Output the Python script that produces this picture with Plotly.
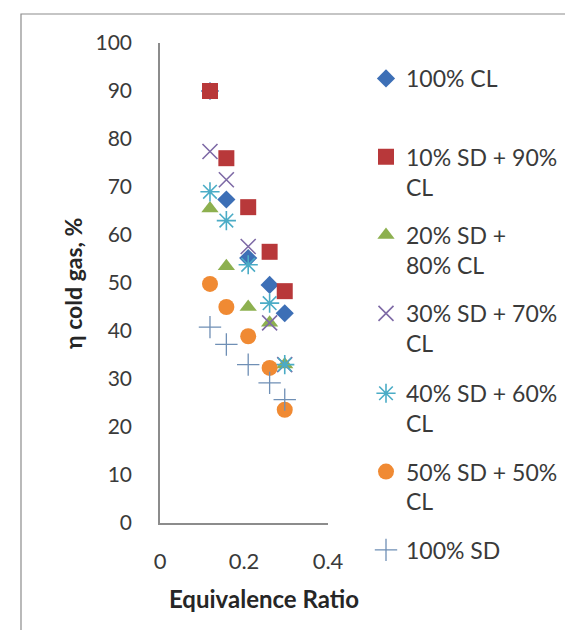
import plotly.graph_objects as go

# Equivalence ratio values (shared by all series)
equivalence_ratio = [0.119, 0.158, 0.21, 0.261, 0.297]

series_names = [
    "100% CL<br>\u00a0",
    "10% SD + 90%<br>CL",
    "20% SD +<br>80% CL",
    "30% SD + 70%<br>CL",
    "40% SD + 60%<br>CL",
    "50% SD + 50%<br>CL",
    "100% SD<br>\u00a0",
]

cl_100 = [90.0, 67.4, 55.2, 49.6, 43.7]
sd10_cl90 = [90.0, 76.0, 65.8, 56.5, 48.3]
sd20_cl80 = [65.5, 53.5, 45.0, 41.7, 33.0]
sd30_cl70 = [77.4, 71.5, 57.6, 41.7, 33.0]
sd40_cl60 = [69.0, 63.0, 53.8, 45.8, 33.0]
sd50_cl50 = [49.8, 45.0, 38.9, 32.3, 23.6]
sd_100 = [40.8, 37.2, 33.0, 29.2, 25.7]

y_ticks = [0, 10, 20, 30, 40, 50, 60, 70, 80, 90, 100]
x_ticks = [0, 0.2, 0.4]

values = [cl_100, sd10_cl90, sd20_cl80, sd30_cl70, sd40_cl60, sd50_cl50, sd_100]

styles = [
    dict(symbol="diamond", size=14, color="#3D6FB6", line=dict(width=0)),
    dict(symbol="square", size=16, color="#B8383A", line=dict(width=0)),
    dict(symbol="triangle-up", size=15, color="#8DB04F", line=dict(width=0)),
    dict(symbol="x-thin-open", size=15, color="#7E6AA6", line=dict(width=1.6, color="#7E6AA6")),
    dict(symbol="asterisk-open", size=16, color="#4BACC6", line=dict(width=1.6, color="#4BACC6")),
    dict(symbol="circle", size=16, color="#F08A33", line=dict(width=0)),
    dict(symbol="cross-thin-open", size=16, color="#6F8FB5", line=dict(width=1.3, color="#6F8FB5")),
]

FONT = "Lato, 'Open Sans', sans-serif"
TXT = "#3A3A3A"

fig = go.Figure()
for i, (name, ys, st) in enumerate(zip(series_names, values, styles)):
    fig.add_trace(go.Scatter(
        x=equivalence_ratio, y=ys, name=name, mode="markers",
        marker=st, legendgroup=f"g{i}",
        legend="legend" if i < 4 else "legend2",
    ))

L, R, T, B = 152, 253, 35, 115
W, H = 573, 630
pw, ph = W - L - R, H - T - B

def px_x(p):
    return (p - L) / pw

def px_y(p):
    return (H - B - p) / ph

ITEM_STEP = 78.7
leg_common = dict(
    xanchor="left", yanchor="top",
    font=dict(family=FONT, size=23, color=TXT),
    valign="top", tracegroupgap=15.5, bgcolor="rgba(0,0,0,0)",
    itemwidth=30,
)

fig.update_layout(
    width=W, height=H,
    margin=dict(l=L, r=R, t=T, b=B),
    paper_bgcolor="white", plot_bgcolor="white",
    font=dict(family=FONT, size=21, color=TXT),
    showlegend=True,
    legend=dict(x=px_x(358), y=px_y(49), **leg_common),
    legend2=dict(x=px_x(358), y=px_y(49 + 4 * ITEM_STEP), **leg_common),
    xaxis=dict(
        range=[0, 0.4], tickvals=x_ticks, showgrid=False, zeroline=False,
        showline=True, linecolor="#8C8C8C", linewidth=1.5, ticks="",
        ticklabelstandoff=18, tickfont=dict(size=22, color=TXT),
    ),
    yaxis=dict(
        range=[0, 100], tickvals=y_ticks, showgrid=False, zeroline=False,
        showline=True, linecolor="#8C8C8C", linewidth=1.5, ticks="",
        ticklabelstandoff=22, tickfont=dict(size=21, color=TXT),
    ),
    annotations=[
        dict(text="<b>Equivalence Ratio</b>", xref="paper", yref="paper",
             x=px_x(256), y=px_y(590), xanchor="center", yanchor="middle",
             showarrow=False, font=dict(family=FONT, size=24, color="#262626")),
        dict(text="<b>η cold gas, %</b>", xref="paper", yref="paper",
             x=px_x(65), y=px_y(275), xanchor="center", yanchor="middle",
             textangle=-90, showarrow=False,
             font=dict(family=FONT, size=23, color="#262626")),
    ],
    shapes=[
        dict(type="rect", xref="paper", yref="paper",
             x0=px_x(13), x1=px_x(590), y0=px_y(650), y1=px_y(6),
             line=dict(color="#8C8C8C", width=1.2), fillcolor="rgba(0,0,0,0)",
             layer="below"),
    ],
)

fig.write_html("out.html")
